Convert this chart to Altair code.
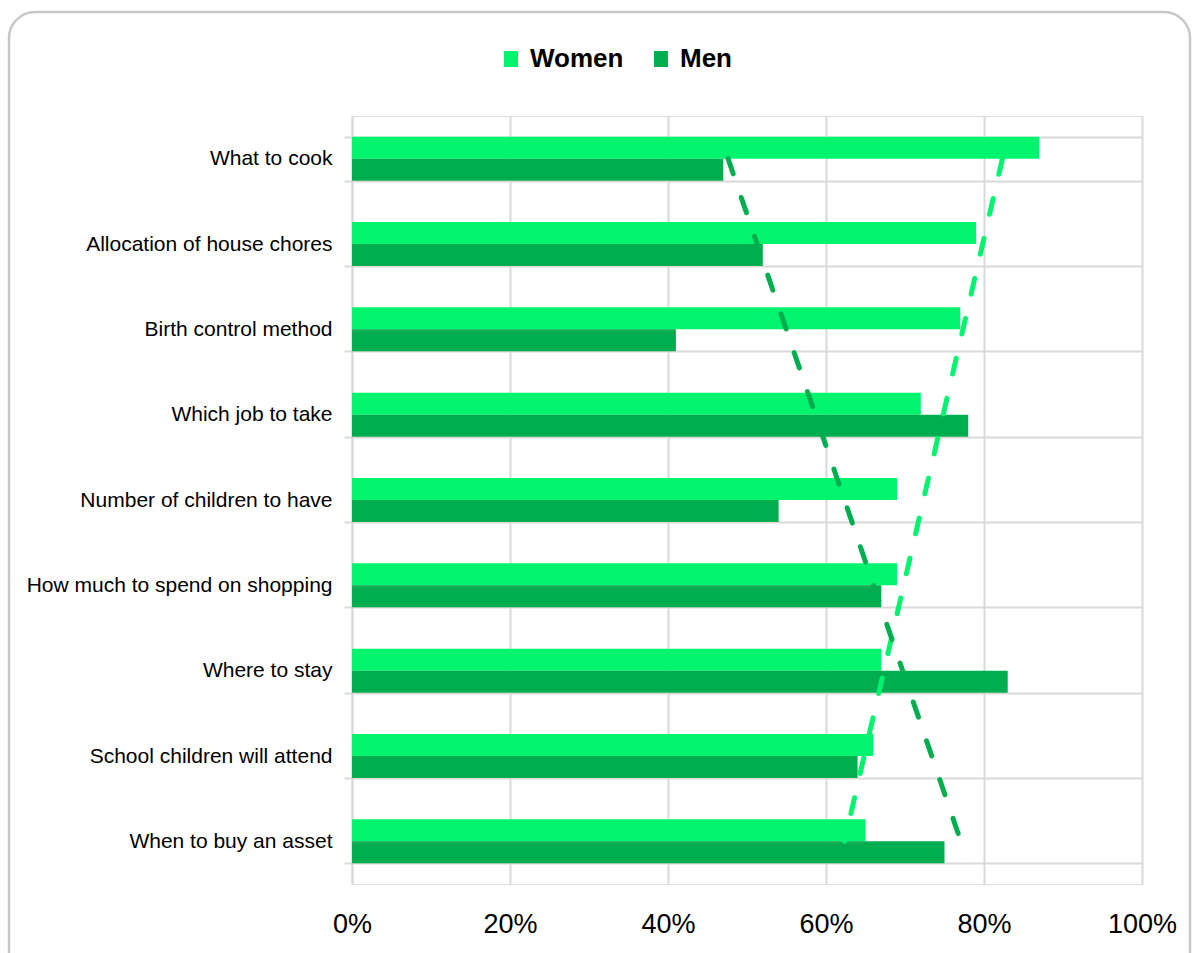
import altair as alt
import pandas as pd

categories = [
    "What to cook",
    "Allocation of house chores",
    "Birth control method",
    "Which job to take",
    "Number of children to have",
    "How much to spend on shopping",
    "Where to stay",
    "School children will attend",
    "When to buy an asset",
]
women = [87, 79, 77, 72, 69, 69, 67, 66, 65]
men = [47, 52, 41, 78, 54, 67, 83, 64, 75]
series = ["Women", "Men"]
colors = ["#00F46E", "#00AE50"]
x_ticks = [0, 20, 40, 60, 80, 100]

rows = []
for i, c in enumerate(categories):
    rows.append({"category": c, "idx": i + 1, "series": "Women", "value": women[i]})
    rows.append({"category": c, "idx": i + 1, "series": "Men", "value": men[i]})
df = pd.DataFrame(rows)
cat_df = pd.DataFrame({"idx": list(range(1, len(categories) + 1)), "category": categories})

FONT = "Liberation Sans"

y_enc = alt.Y(
    "category:N",
    sort=categories,
    title=None,
    scale=alt.Scale(paddingInner=0.484, paddingOuter=0.242),
    axis=alt.Axis(
        tickBand="extent",
        labelFontSize=21,
        labelFont=FONT,
        labelColor="#000000",
        labelPadding=12,
        tickSize=8,
        tickColor="#D9D9D9",
        tickWidth=2,
        grid=True,
        gridColor="#D9D9D9",
        gridWidth=2,
        domainColor="#D9D9D9",
        domainWidth=2,
        labelLimit=400,
    ),
)

x_enc = alt.X(
    "value:Q",
    title=None,
    scale=alt.Scale(domain=[0, 100], nice=False),
    axis=alt.Axis(
        values=x_ticks,
        labelExpr="datum.value + '%'",
        labelFontSize=27,
        labelFont=FONT,
        labelColor="#000000",
        labelPadding=27,
        labelFlush=False,
        ticks=False,
        domain=False,
        grid=True,
        gridColor="#D9D9D9",
        gridWidth=2,
    ),
)

bars = alt.Chart(df).mark_bar().encode(
    y=y_enc,
    x=x_enc,
    yOffset=alt.YOffset("series:N", sort=series, scale=alt.Scale(paddingInner=0, paddingOuter=0)),
    color=alt.Color(
        "series:N",
        sort=series,
        scale=alt.Scale(domain=series, range=colors),
        title=None,
        legend=alt.Legend(
            orient="none",
            legendX=146,
            legendY=-70,
            direction="horizontal",
            symbolType="M-0.875,-1L0.875,-1L0.875,1L-0.875,1Z",
            symbolSize=256,
            symbolStrokeWidth=0,
            labelFont=FONT,
            labelFontSize=26,
            labelFontWeight="bold",
            labelColor="#000000",
            labelOffset=6,
            columnPadding=24,
        ),
    ),
)

trend = (
    alt.Chart(df)
    .transform_regression("idx", "value", groupby=["series"])
    .transform_lookup(
        lookup="idx",
        from_=alt.LookupData(data=alt.InlineData(values=cat_df.to_dict("records")), key="idx", fields=["category"]),
    )
    .mark_line(strokeWidth=5, strokeDash=[16, 25], strokeCap="round")
    .encode(
        y=alt.Y("category:N", sort=categories),
        x=alt.X("value:Q"),
        stroke=alt.Stroke("series:N", scale=alt.Scale(domain=series, range=colors), legend=None),
        detail="series:N",
    )
)

frame = (
    alt.Chart(alt.InlineData(values=[{"k": 1}]))
    .mark_rect(filled=False, stroke="#C8C8C8", strokeWidth=2.5, cornerRadius=26, clip=False)
    .encode(
        x=alt.value(-343),
        x2=alt.value(838),
        y=alt.value(-104),
        y2=alt.value(880),
    )
)

chart = (
    alt.layer(frame, bars, trend)
    .resolve_scale(stroke="independent")
    .properties(
        width=790,
        height=768,
        autosize=alt.AutoSizeParams(type="none"),
        padding={"left": 352, "top": 116, "right": 50, "bottom": 69},
        background="#FFFFFF",
    )
    .configure_view(stroke="#D9D9D9", strokeWidth=2)
    .configure(font=FONT)
)

chart.save("out.html", embed_options={"renderer": "svg", "actions": False})
